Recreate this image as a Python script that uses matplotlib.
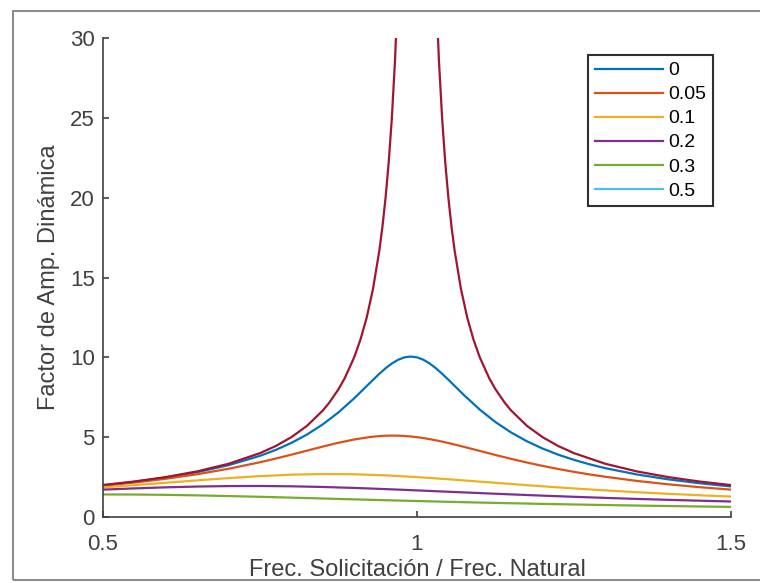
import numpy as np
import matplotlib.pyplot as plt
from matplotlib.patches import Rectangle

plt.rcParams['font.family'] = ['Liberation Sans', 'DejaVu Sans']

# Datos
r_fino = [0.50, 0.55, 0.60, 0.65, 0.70, 0.75, 0.775, 0.80, 0.825, 0.85, 0.875, 0.90, 0.925,
          0.94, 0.95, 0.96, 0.97, 0.98, 0.99, 1.00, 1.01, 1.02, 1.03, 1.04, 1.05, 1.06,
          1.075, 1.10, 1.125, 1.15, 1.175, 1.20, 1.225, 1.25, 1.275, 1.30, 1.35, 1.40,
          1.45, 1.50]
fad_005 = [1.990, 2.206, 2.472, 2.809, 3.246, 3.831, 4.202, 4.642, 5.169, 5.800, 6.554, 7.433, 8.397,
           8.967, 9.315, 9.615, 9.849, 9.998, 10.050, 10.000, 9.853, 9.621, 9.321, 8.974, 8.599, 8.210,
           7.629, 6.727, 5.946, 5.291, 4.744, 4.287, 3.903, 3.578, 3.299, 3.058, 2.666, 2.360,
           2.115, 1.916]
fad_01 = [1.961, 2.159, 2.395, 2.678, 3.021, 3.430, 3.660, 3.904, 4.158, 4.411, 4.650, 4.856, 5.009,
          5.067, 5.090, 5.099, 5.094, 5.076, 5.044, 5.000, 4.944, 4.879, 4.804, 4.721, 4.632, 4.539,
          4.392, 4.138, 3.885, 3.642, 3.413, 3.201, 3.006, 2.828, 2.666, 2.519, 2.262, 2.048,
          1.868, 1.715]

r_grueso = [0.50, 0.55, 0.60, 0.65, 0.70, 0.75, 0.80, 0.85, 0.90, 0.95, 1.00,
            1.05, 1.10, 1.15, 1.20, 1.25, 1.30, 1.35, 1.40, 1.45, 1.50]
fad_02 = [1.857, 1.996, 2.144, 2.294, 2.437, 2.561, 2.650, 2.691, 2.676, 2.609, 2.500,
          2.364, 2.216, 2.067, 1.923, 1.789, 1.666, 1.554, 1.453, 1.362, 1.280]
fad_03 = [1.715, 1.792, 1.858, 1.908, 1.937, 1.943, 1.923, 1.881, 1.821, 1.748, 1.667,
          1.582, 1.498, 1.416, 1.338, 1.265, 1.197, 1.133, 1.075, 1.021, 0.971]
fad_05 = [1.414, 1.407, 1.387, 1.355, 1.313, 1.265, 1.213, 1.159, 1.104, 1.051, 1.000,
          0.951, 0.905, 0.862, 0.822, 0.784, 0.750, 0.717, 0.687, 0.659, 0.632]

# Sin amortiguamiento (dos ramas, se corta en 30)
r_sin = [0.50, 0.55, 0.60, 0.65, 0.70, 0.75, 0.775, 0.80, 0.825, 0.85, 0.86, 0.875, 0.885,
         0.90, 0.91, 0.92, 0.93, 0.94, 0.945, 0.95, 0.955, 0.96, 0.965, 0.97, np.nan,
         1.03, 1.035, 1.04, 1.045, 1.05, 1.055, 1.06, 1.07, 1.08, 1.09, 1.10, 1.115,
         1.125, 1.14, 1.15, 1.175, 1.20, 1.225, 1.25, 1.30, 1.35, 1.40, 1.45, 1.50]
fad_sin = [2.000, 2.222, 2.500, 2.857, 3.333, 4.000, 4.444, 5.000, 5.714, 6.667, 7.143, 8.000, 8.696,
           10.00, 11.11, 12.50, 14.29, 16.67, 18.18, 20.00, 22.22, 25.00, 28.57, 33.33, np.nan,
           33.33, 28.57, 25.00, 22.22, 20.00, 18.18, 16.67, 14.29, 12.50, 11.11, 10.00, 8.696,
           8.000, 7.143, 6.667, 5.714, 5.000, 4.444, 4.000, 3.333, 2.857, 2.500, 2.222, 2.000]

etiquetas = ['0', '0.05', '0.1', '0.2', '0.3', '0.5']
colores = ['#0072BD', '#D95319', '#EDB120', '#7E2F8E', '#77AC30', '#4DBEEE', '#A2142F']
gris = '#404040'

fig = plt.figure(figsize=(7.6, 5.83), dpi=100)
ax = fig.add_axes([0.1355, 0.1132, 0.8263, 0.8216])

lw = 1.6
ax.plot(r_fino, fad_005, color=colores[0], lw=lw, label=etiquetas[0])
ax.plot(r_fino, fad_01, color=colores[1], lw=lw, label=etiquetas[1])
ax.plot(r_grueso, fad_02, color=colores[2], lw=lw, label=etiquetas[2])
ax.plot(r_grueso, fad_03, color=colores[3], lw=lw, label=etiquetas[3])
ax.plot(r_grueso, fad_05, color=colores[4], lw=lw, label=etiquetas[4])
ax.plot([], [], color=colores[5], lw=lw, label=etiquetas[5])
ax.plot(r_sin, fad_sin, color=colores[6], lw=lw)

ax.set_xlim(0.5, 1.5)
ax.set_ylim(0, 30)
ax.set_xticks([0.5, 1, 1.5])
ax.set_xticklabels(['0.5', '1', '1.5'])
ax.set_yticks([0, 5, 10, 15, 20, 25, 30])

for s in ['top', 'right']:
    ax.spines[s].set_visible(False)
for s in ['left', 'bottom']:
    ax.spines[s].set_color(gris)
    ax.spines[s].set_linewidth(1.2)

ax.tick_params(axis='both', direction='in', length=4, width=1.2, colors=gris,
               labelsize=16, labelcolor=gris)
ax.tick_params(axis='x', pad=12)
ax.tick_params(axis='y', pad=6)

ax.set_xlabel('Frec. Solicitación / Frec. Natural', fontsize=17, color=gris, labelpad=3)
ax.set_ylabel('Factor de Amp. Dinámica', fontsize=17, color=gris, labelpad=7)

leg = ax.legend(loc='upper right', bbox_to_anchor=(713/760, (583-55)/583),
                bbox_transform=fig.transFigure, borderaxespad=0, fontsize=14,
                handlelength=3.5, handletextpad=0.25, labelspacing=0.33,
                fancybox=False, edgecolor='#303030', framealpha=1, borderpad=0.35)
leg.get_frame().set_linewidth(1.5)

# marco de la captura
fig.patches.append(Rectangle((13/760, 3/583), 1.0, (580-11)/583, transform=fig.transFigure,
                             fill=False, edgecolor='#8c8c8c', lw=1.5, zorder=5))

plt.savefig('out.png')
